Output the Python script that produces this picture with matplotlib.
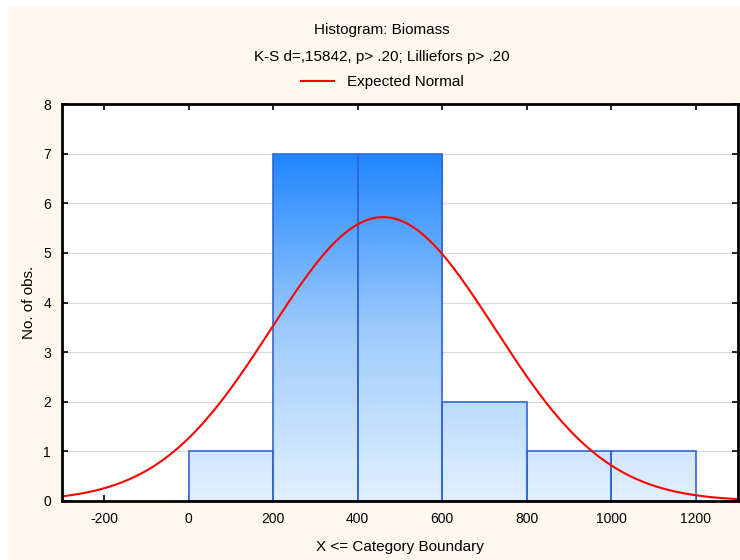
import numpy as np
import matplotlib.pyplot as plt
from matplotlib.colors import LinearSegmentedColormap
from matplotlib.patches import Rectangle

plt.rcParams['font.family'] = ['Liberation Sans', 'DejaVu Sans']
plt.rcParams['axes.unicode_minus'] = False

# histogram data
bin_left = [0, 200, 400, 600, 800, 1000]
counts = [1, 7, 7, 2, 1, 1]
bin_width = 200

# expected normal parameters
n_obs = 19
mean_val = 460.0
sd_val = 265.0

xticks = [-200, 0, 200, 400, 600, 800, 1000, 1200]
yticks = [0, 1, 2, 3, 4, 5, 6, 7, 8]

fig = plt.figure(figsize=(7.4, 5.6), dpi=100)
fig.patch.set_facecolor('white')
fig.patches.append(Rectangle((8 / 740, 0), 1, 1 - 7 / 560, transform=fig.transFigure,
                             facecolor='#fdf9ef', edgecolor='none', zorder=-10))

ax = fig.add_axes([62 / 740, 1 - 501 / 560, 676 / 740, 397 / 560])
ax.set_facecolor('white')

cmap = LinearSegmentedColormap.from_list('grad', ['#e3f0ff', '#9ccafc', '#1f86fe'])
grad = np.linspace(0, 1, 256).reshape(-1, 1)

for left, c in zip(bin_left, counts):
    rect = Rectangle((left, 0), bin_width, c, facecolor='none',
                     edgecolor='#2f66d6', linewidth=1.2, zorder=3)
    ax.add_patch(rect)
    im = ax.imshow(grad, extent=(-300, 1300, 0, 7), origin='lower', aspect='auto',
                   cmap=cmap, zorder=2, interpolation='bicubic')
    im.set_clip_path(rect)

ax.set_xlim(-300, 1300)
ax.set_ylim(0, 8)

xs = np.linspace(-300, 1300, 400)
ys = n_obs * bin_width / (sd_val * np.sqrt(2 * np.pi)) * np.exp(-0.5 * ((xs - mean_val) / sd_val) ** 2)
ax.plot(xs, ys, color='#ff0000', linewidth=1.5, zorder=4, label='Expected Normal')

ax.set_xticks(xticks)
ax.set_yticks(yticks)
ax.grid(axis='y', color='#d8d8d8', linewidth=0.8, zorder=0)
ax.set_axisbelow(True)
ax.tick_params(direction='in', top=True, right=True, length=4, width=1.2,
               labelsize=10, pad=8)
for s in ax.spines.values():
    s.set_linewidth(2)
    s.set_zorder(5)

ax.set_xlabel('X <= Category Boundary', fontsize=11, labelpad=10)
ax.set_ylabel('No. of obs.', fontsize=11, labelpad=5)

cx = 382 / 740
fig.text(cx, 1 - 30 / 560, 'Histogram: Biomass', ha='center', va='center', fontsize=11)
fig.text(cx, 1 - 57 / 560, 'K-S d=,15842, p> .20; Lilliefors p> .20', ha='center', va='center', fontsize=11)
fig.legend(loc='center', bbox_to_anchor=(cx, 1 - 82 / 560), frameon=False, fontsize=11,
           handlelength=2.2, handletextpad=0.8)

fig.savefig('out.png', dpi=100, facecolor=fig.get_facecolor())
